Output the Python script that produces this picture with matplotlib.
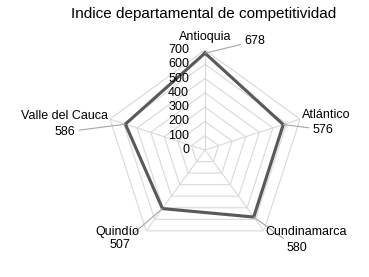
import numpy as np
import matplotlib.pyplot as plt

plt.rcParams['font.family'] = ['Liberation Sans', 'DejaVu Sans']

categories = ['Antioquia', 'Atlántico', 'Cundinamarca', 'Quindío', 'Valle del Cauca']
values = [678, 576, 580, 507, 586]
ticks = [0, 100, 200, 300, 400, 500, 600, 700]

# label placement (pixels from the data point): value text, name text
value_offsets = [(50, 12), (40, -5), (43, -31), (-42, -36), (-61, -8)]
name_offsets = [(0, 16), (43, 10), (52, -15), (-45, -23), (-61, 8)]

fig = plt.figure(figsize=(3.69, 2.77), dpi=100)
ax = fig.add_axes([0.2846, 0.0975, 0.542, 0.722], projection='polar')
ax.set_theta_offset(np.pi / 2)
ax.set_theta_direction(-1)
ax.set_ylim(0, 700)
ax.grid(False)
ax.spines['polar'].set_visible(False)
ax.set_xticks([])
ax.set_yticks([])
ax.patch.set_alpha(0)

angles = np.linspace(0, 2 * np.pi, len(categories), endpoint=False)
closed = np.append(angles, angles[0])

# pentagon gridlines and spokes
for t in ticks[1:]:
    ax.plot(closed, [t] * len(closed), color='#d9d9d9', lw=0.8, zorder=1)
for a in angles:
    ax.plot([a, a], [0, 700], color='#d9d9d9', lw=0.8, zorder=1)

for t in ticks:
    ax.annotate(str(t), xy=(0, t), xytext=(-16, 0), textcoords='offset pixels',
                ha='right', va='center', fontsize=9, color='black', zorder=3)

ax.plot(closed, values + [values[0]], color='#595959', lw=2.25, zorder=2)

for a, v, name, vo, no in zip(angles, values, categories, value_offsets, name_offsets):
    ax.annotate(str(v), xy=(a, v), xytext=vo, textcoords='offset pixels',
                ha='center', va='center', fontsize=9,
                arrowprops=dict(arrowstyle='-', color='#a6a6a6', lw=0.8,
                                shrinkA=1, shrinkB=0))
    ax.annotate(name, xy=(a, v), xytext=no, textcoords='offset pixels',
                ha='center', va='center', fontsize=9)

fig.text(0.551, 0.95, 'Indice departamental de competitividad',
         ha='center', va='center', fontsize=11)

fig.savefig('out.png', dpi=100)
